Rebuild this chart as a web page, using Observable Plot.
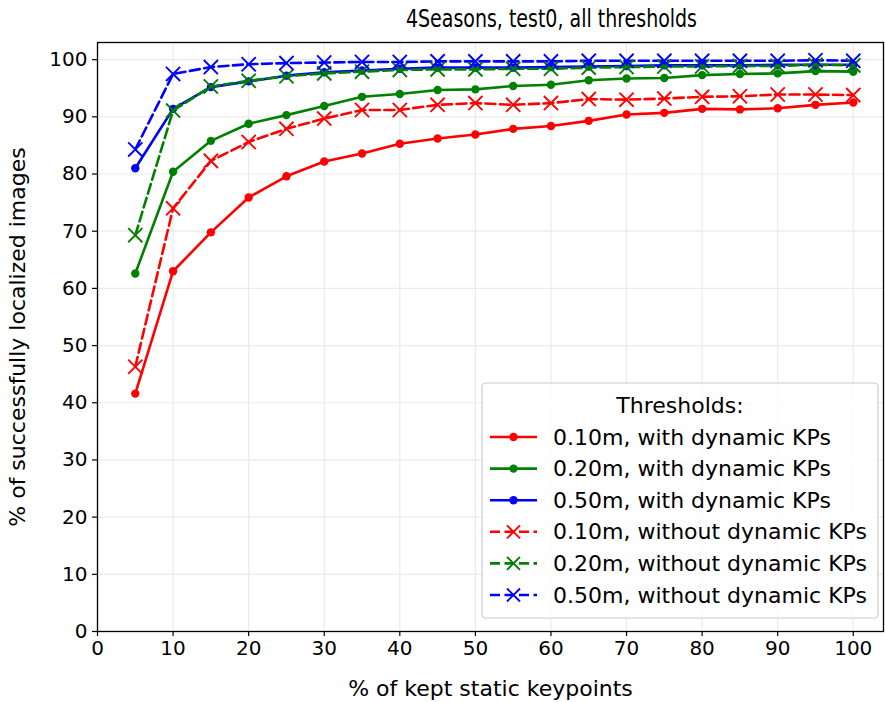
<!DOCTYPE html>
<html><head><meta charset="utf-8">
<script src="https://cdn.jsdelivr.net/npm/d3@7"></script>
<script src="https://cdn.jsdelivr.net/npm/@observablehq/plot@0.6"></script>
<style>body{margin:0;background:#fff;} svg{display:block;}</style>
</head><body><div id="chart"></div>
<script>
const keptPct = [5,10,15,20,25,30,35,40,45,50,55,60,65,70,75,80,85,90,95,100];
const red_with   = [41.6,63.0,69.8,75.9,79.6,82.2,83.6,85.3,86.2,86.9,87.9,88.4,89.3,90.4,90.7,91.4,91.3,91.5,92.1,92.5];
const green_with = [62.6,80.4,85.8,88.8,90.3,91.9,93.5,94.0,94.7,94.8,95.4,95.6,96.4,96.7,96.8,97.3,97.5,97.6,98.0,97.9];
const blue_with  = [81.0,91.4,95.2,96.2,97.2,97.8,98.1,98.4,98.6,98.6,98.6,98.7,98.8,98.9,99.0,99.0,99.0,99.1,99.1,99.1];
const red_without   = [46.3,74.0,82.3,85.6,87.9,89.7,91.2,91.2,92.1,92.4,92.1,92.4,93.1,93.0,93.2,93.5,93.6,93.9,93.9,93.8];
const green_without = [69.3,91.1,95.3,96.3,97.1,97.6,97.9,98.2,98.3,98.3,98.4,98.4,98.6,98.7,98.8,98.8,98.9,98.9,99.1,99.0];
const blue_without  = [84.3,97.5,98.7,99.2,99.4,99.5,99.6,99.6,99.7,99.7,99.7,99.7,99.8,99.8,99.8,99.8,99.8,99.8,99.9,99.8];
const xTicks = [0,10,20,30,40,50,60,70,80,90,100];
const yTicks = [0,10,20,30,40,50,60,70,80,90,100];
const seriesNames = ["0.10m, with dynamic KPs","0.20m, with dynamic KPs","0.50m, with dynamic KPs",
  "0.10m, without dynamic KPs","0.20m, without dynamic KPs","0.50m, without dynamic KPs"];
const seriesColors = ["#ff0000","#008000","#0000ff","#ff0000","#008000","#0000ff"];
const seriesValues = [red_with, green_with, blue_with, red_without, green_without, blue_without];

const seriesDefs = seriesNames.map((name, i) => ({name, values: seriesValues[i], color: seriesColors[i], dyn: i < 3}));
const rows = seriesDefs.flatMap(s => s.values.map((v,i) => ({series:s.name, x:keptPct[i], y:v, color:s.color, dyn:s.dyn})));
const withRows = rows.filter(d => d.dyn);
const withoutRows = rows.filter(d => !d.dyn);

const font = "DejaVu Sans, Liberation Sans, sans-serif";
const plot = Plot.plot({
  width: 885, height: 702,
  marginLeft: 97, marginRight: 2, marginTop: 42, marginBottom: 71,
  style: {fontFamily: font, fontSize: "20px", background: "#fff", color: "#000"},
  x: {domain: [0, 104]},
  y: {domain: [0, 103]},
  marks: [
    Plot.gridX(xTicks, {stroke: "#ebebeb", strokeOpacity: 1, strokeWidth: 1.2}),
    Plot.gridY(yTicks, {stroke: "#ebebeb", strokeOpacity: 1, strokeWidth: 1.2}),
    Plot.axisX({ticks: xTicks, tickSize: 5, tickPadding: 4, label: null, fontSize: 20, strokeWidth: 1.2}),
    Plot.axisY({ticks: yTicks, tickSize: 5, tickPadding: 5, label: null, fontSize: 20, strokeWidth: 1.2}),
    Plot.axisX({ticks: [], label: "% of kept static keypoints", labelAnchor: "center", labelArrow: "none", labelOffset: 64, fontSize: 22}),
    Plot.axisY({ticks: [], label: "% of successfully localized images", labelAnchor: "center", labelArrow: "none", labelOffset: 88, fontSize: 22}),
    Plot.line(withRows, {x: "x", y: "y", z: "series", stroke: "color", strokeWidth: 2.6}),
    Plot.dot(withRows, {x: "x", y: "y", fill: "color", r: 4.2, stroke: null}),
    Plot.line(withoutRows, {x: "x", y: "y", z: "series", stroke: "color", strokeWidth: 2.6, strokeDasharray: "10,4.5"}),
    Plot.dot(withoutRows, {x: "x", y: "y", stroke: "color", symbol: "times", r: 6.5, strokeWidth: 1.9}),
    Plot.frame({stroke: "#000", strokeWidth: 1.3})
  ]
});
document.getElementById("chart").appendChild(plot);

const svg = d3.select(plot);
// title
svg.append("text").attr("x", 551.5).attr("y", 19).attr("text-anchor", "middle")
  .attr("dominant-baseline", "central").style("font-family", font).style("font-size", "24px")
  .attr("textLength", 291).attr("lengthAdjust", "spacingAndGlyphs").attr("fill", "#000")
  .text("4Seasons, test0, all thresholds");

// legend
const lg = svg.append("g").style("font-family", font).style("font-size", "22px").attr("text-anchor", "start");
const lx = 482, ly = 383, lw = 396, lh = 235;
lg.append("rect").attr("x", lx).attr("y", ly).attr("width", lw).attr("height", lh)
  .attr("rx", 4).attr("fill", "#fff").attr("fill-opacity", 0.8).attr("stroke", "#cccccc").attr("stroke-width", 1.2);
lg.append("text").attr("x", lx + lw/2).attr("y", ly + 22).attr("text-anchor", "middle")
  .attr("dominant-baseline", "central").attr("fill", "#000").text("Thresholds:");
seriesDefs.forEach((s, i) => {
  const yy = ly + 54 + i * 31.6;
  const g = lg.append("g");
  g.append("line").attr("x1", 490).attr("x2", 537).attr("y1", yy).attr("y2", yy)
    .attr("stroke", s.color).attr("stroke-width", 2.6)
    .attr("stroke-dasharray", s.dyn ? null : "10,4.5");
  if (s.dyn) {
    g.append("circle").attr("cx", 513.5).attr("cy", yy).attr("r", 4.2).attr("fill", s.color);
  } else {
    const r = 6.5;
    g.append("path").attr("d", `M${513.5-r},${yy-r}L${513.5+r},${yy+r}M${513.5-r},${yy+r}L${513.5+r},${yy-r}`)
      .attr("stroke", s.color).attr("stroke-width", 1.9);
  }
  g.append("text").attr("x", 553).attr("y", yy).attr("dominant-baseline", "central")
    .attr("text-anchor", "start").attr("fill", "#000").text(s.name);
});
</script>
</body></html>
